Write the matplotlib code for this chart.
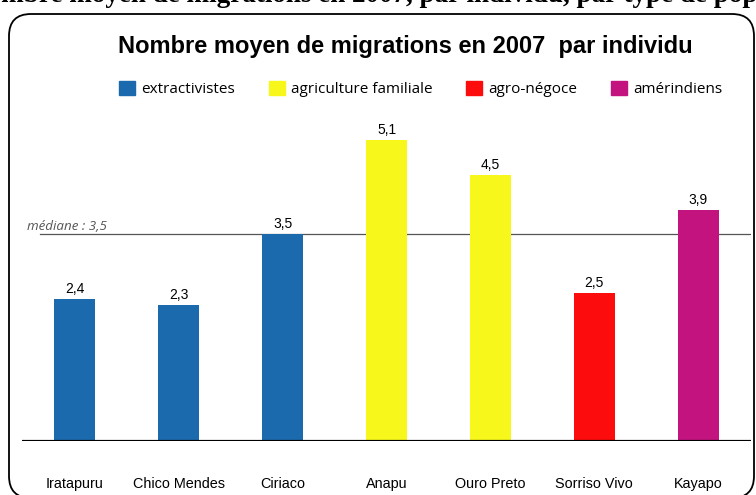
import matplotlib.pyplot as plt
from matplotlib.patches import FancyBboxPatch, Patch

# données
sites = ['Iratapuru', 'Chico Mendes', 'Ciriaco', 'Anapu', 'Ouro Preto', 'Sorriso Vivo', 'Kayapo']
valeurs = [2.4, 2.3, 3.5, 5.1, 4.5, 2.5, 3.9]
groupes = ['extractivistes', 'extractivistes', 'extractivistes',
           'agriculture familiale', 'agriculture familiale', 'agro-négoce', 'amérindiens']
legende = ['extractivistes', 'agriculture familiale', 'agro-négoce', 'amérindiens']
mediane = 3.5

couleurs = {'extractivistes': '#1b6aad',
            'agriculture familiale': '#f7f71c',
            'agro-négoce': '#fc0c0c',
            'amérindiens': '#c3137f'}

W, H = 756, 495
fig = plt.figure(figsize=(W / 100, H / 100), dpi=100)

# fond : cadre arrondi + ligne de titre coupée en haut
bg = fig.add_axes([0, 0, 1, 1])
bg.set_xlim(0, W)
bg.set_ylim(H, 0)
bg.axis('off')
bg.add_patch(FancyBboxPatch((9, 14), 745, 484, boxstyle='round,pad=0,rounding_size=22',
                            fc='white', ec='black', lw=1.3))
bg.text(-32, 2, 'Nombre moyen de migrations en 2007, par individu, par type de population',
        family='Liberation Serif', weight='bold', fontsize=19.5, va='baseline', ha='left')

# graphique
x0, x1 = 22, 751
y_base, px_unit = 440.5, 59.0
ymax = 5.6
ax = fig.add_axes([x0 / W, 1 - y_base / H, (x1 - x0) / W, ymax * px_unit / H])
ax.patch.set_alpha(0)

pos = range(len(sites))
ax.bar(pos, valeurs, width=0.395, color=[couleurs[g] for g in groupes], zorder=2)
for p, v in zip(pos, valeurs):
    ax.text(p, v + 0.05, f'{v:.1f}'.replace('.', ','), ha='center', va='bottom',
            family='Liberation Sans', fontsize=10)

# médiane
ax.axhline(mediane, xmin=(40 - x0) / (x1 - x0), xmax=1, color='#555555', lw=0.9, zorder=1)
fig.text(27 / W, 1 - 226 / H, 'médiane : 3,5', family='Open Sans', style='italic',
         fontsize=9.6, color='#555555', va='center', ha='left')

ax.axhline(0, color='black', lw=2.3, zorder=3)

ax.set_xlim(-0.51, 6.51)
ax.set_ylim(0, ymax)
ax.set_xticks(list(pos))
ax.set_xticklabels(sites, family='Liberation Sans', fontsize=10.4)
ax.tick_params(axis='x', length=0, pad=26)
ax.set_yticks([])
for s in ax.spines.values():
    s.set_visible(False)

fig.text(405 / W, 1 - 46 / H, 'Nombre moyen de migrations en 2007  par individu',
         family='Liberation Sans', weight='bold', fontsize=17, ha='center', va='center')

handles = [Patch(color=couleurs[g]) for g in legende]
fig.legend(handles, legende, loc='center left', bbox_to_anchor=(119 / W, 1 - 89 / H),
           ncol=4, frameon=False, prop={'family': 'Open Sans', 'size': 11},
           handlelength=1.05, handleheight=1.05, handletextpad=0.4, columnspacing=2.2,
           borderpad=0, borderaxespad=0)

fig.savefig('out.png', dpi=100)
